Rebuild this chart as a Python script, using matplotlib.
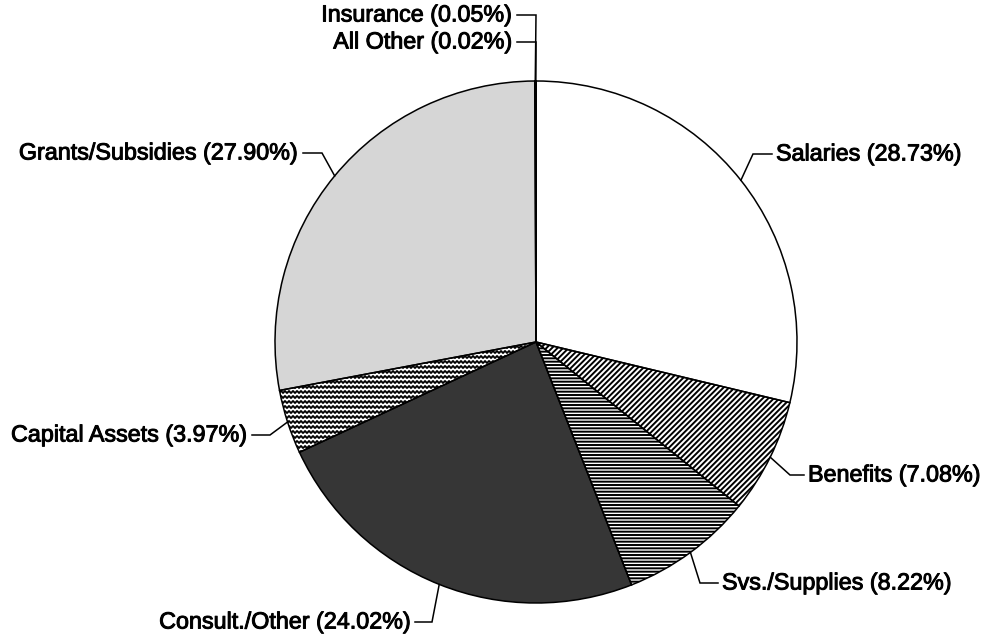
import numpy as np
import matplotlib
matplotlib.use("Agg")
import matplotlib.pyplot as plt
import matplotlib.patheffects as pe

# shares of the budget, in the order they are drawn (clockwise from the top)
categories = ["Salaries", "Benefits", "Svs./Supplies", "Consult./Other",
              "Capital Assets", "Grants/Subsidies", "Insurance", "All Other"]
shares = [28.73, 7.08, 8.22, 24.02, 3.97, 27.90, 0.05, 0.02]

# fill style for each slice
faces = ["white", "white", "white", "#363636", "white", "#d6d6d6", "white", "white"]
hatches = [None, "//////", "-----", None, None, None, None, None]

W, H = 987, 643
CX, CY, R = 536, 342, 261   # pie centre / radius in pixels

# leader layout in pixels: (elbow, end of line, text side)
layout = {
    "Salaries": ((753, 154), (772, 154), "left"),
    "Benefits": ((790, 475), (804, 475), "left"),
    "Svs./Supplies": ((700, 583), (718, 583), "left"),
    "Consult./Other": ((432, 622), (415, 622), "right"),
    "Capital Assets": ((270, 435), (252, 435), "right"),
    "Grants/Subsidies": ((322, 153), (303, 153), "right"),
    "Insurance": ((536, 15), (517, 15), "right"),
    "All Other": ((536, 42), (517, 42), "right"),
}

plt.rcParams["font.family"] = ["Liberation Sans", "DejaVu Sans"]
plt.rcParams["hatch.linewidth"] = 1.4

fig = plt.figure(figsize=(W / 100, H / 100), dpi=100)
ax = fig.add_axes([0, 0, 1, 1])

wedges, _ = ax.pie(shares, startangle=90, counterclock=False,
                   center=(CX, H - CY), radius=R, colors=faces,
                   wedgeprops=dict(edgecolor="none", linewidth=0, zorder=1))
for w, h in zip(wedges, hatches):
    if h:
        w.set_hatch(h)
        w.set_edgecolor("black")

# wavy fill for capital assets
cap = wedges[categories.index("Capital Assets")]
xs = np.linspace(CX - R - 5, CX + 5, 900)
for yy in np.arange(CY - 10, CY + R, 5.0):
    ys = H - yy + 1.0 * np.sin(xs * 2 * np.pi / 4.0)
    ln, = ax.plot(xs, ys, color="black", lw=1.3, zorder=2)
    ln.set_clip_path(cap)

# outlines on top
ax.pie(shares, startangle=90, counterclock=False, center=(CX, H - CY),
       radius=R, colors=["none"] * len(shares),
       wedgeprops=dict(edgecolor="black", linewidth=1.1, zorder=4))

heavy = [pe.withStroke(linewidth=0.7, foreground="black")]
for w, name, val in zip(wedges, categories, shares):
    mid = np.deg2rad((w.theta1 + w.theta2) / 2)
    sx, sy = CX + R * np.cos(mid), CY - R * np.sin(mid)
    (ex, ey), (tx, ty), side = layout[name]
    pts = [(sx, sy), (ex, ey), (tx, ty)]
    ax.plot([p[0] for p in pts], [H - p[1] for p in pts], color="black",
            lw=1.1, zorder=5, solid_joinstyle="miter")
    off = 4 if side == "left" else -4
    ax.text(tx + off, H - ty, f"{name} ({val:.2f}%)", ha=side, va="center",
            fontsize=16.8, color="black", path_effects=heavy)

ax.set_xlim(0, W)
ax.set_ylim(0, H)
ax.set_aspect("equal")
ax.axis("off")

fig.savefig("out.png", dpi=100)
